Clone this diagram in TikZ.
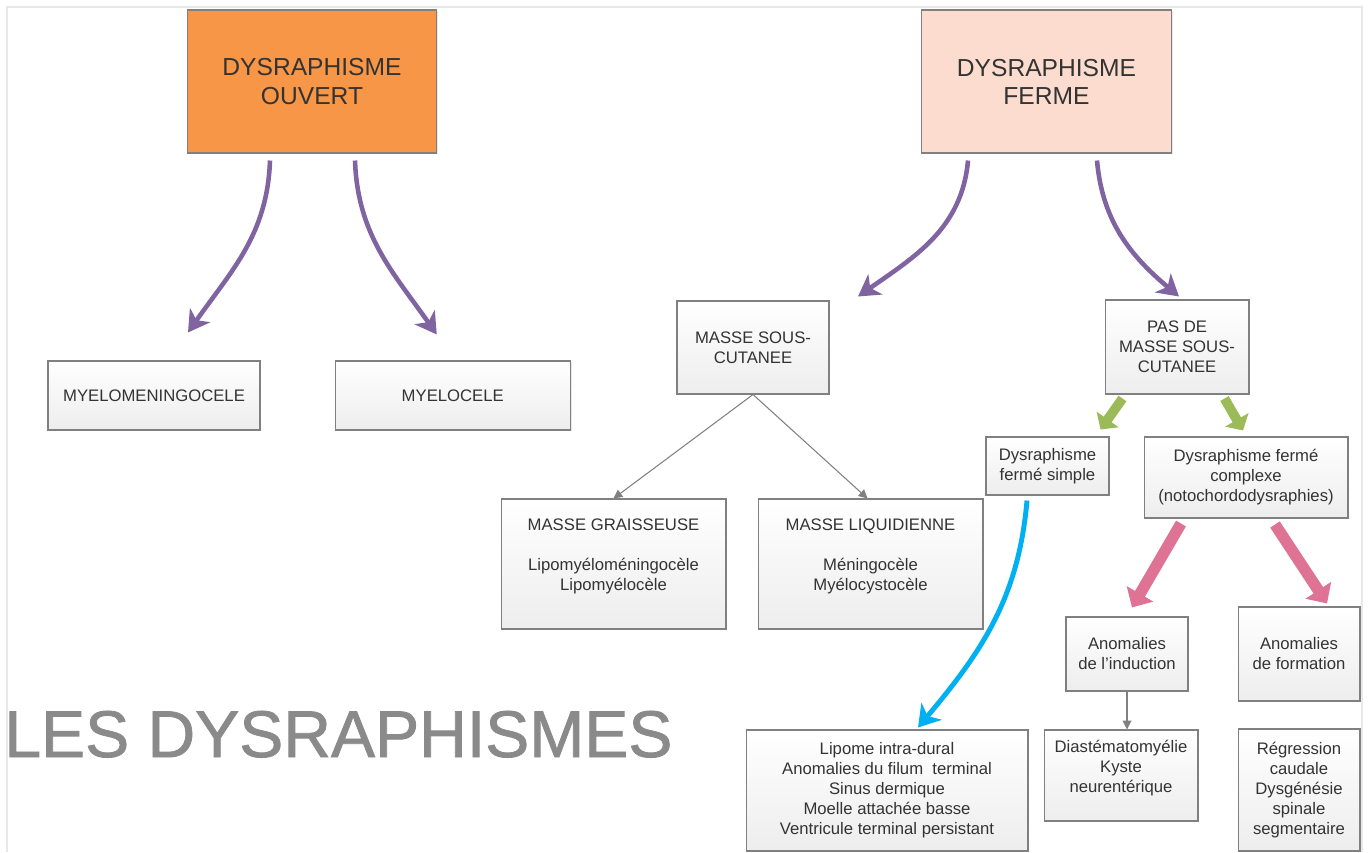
\documentclass[tikz,border=0pt]{standalone}
\usepackage{fontspec}
\setmainfont{Liberation Sans}
\newfontfamily\titrefont[FakeBold=1.2]{Liberation Sans}
\usetikzlibrary{arrows.meta,shadows}
\definecolor{orangeouv}{HTML}{F79646}
\definecolor{peche}{HTML}{FBDCCE}
\definecolor{colviolet}{HTML}{8064A2}
\definecolor{colbleu}{HTML}{00B0F0}
\definecolor{colvert}{HTML}{9BBB59}
\definecolor{colrose}{HTML}{DE7396}
\definecolor{colbord}{HTML}{808080}
\definecolor{coltexte}{HTML}{333333}
\definecolor{coltitre}{HTML}{8A8A8A}
\begin{document}
\begin{tikzpicture}[x=0.02cm,y=-0.02cm,
    box/.style={draw=colbord, line width=0.6pt, top color=white, bottom color=gray!14,
      drop shadow={shadow xshift=0.8pt,shadow yshift=-0.8pt,opacity=0.2},
      align=center, inner sep=0pt, text=coltexte, font=\fontsize{9.5}{11.4}\selectfont},
    bigbox/.style={draw=colbord, line width=0.6pt,
      drop shadow={shadow xshift=0.8pt,shadow yshift=-0.8pt,opacity=0.2},
      align=center, text=coltexte, font=\fontsize{14}{16}\selectfont,
      minimum width=4.99cm, minimum height=2.86cm},
    courbe/.style={colviolet, line width=2.6pt, -{Stealth[length=12pt,width=14pt,inset=3.5pt]}},
    bleu/.style={colbleu, line width=2.8pt, -{Stealth[length=12pt,width=15pt,inset=3.5pt]}},
    fleche/.style={gray, line width=0.6pt, -{Triangle[length=5pt,width=5pt]}},
    vert/.style={colvert, line width=5.5pt, -{Triangle[length=7pt,width=15pt]}},
    rose/.style={colrose, line width=6.5pt, -{Triangle[length=9pt,width=17pt]}}]
    \useasboundingbox (0,0) rectangle (1369,852);
    \draw[gray!18, line width=1.2pt] (7,852) -- (7,7) -- (1362,7) -- (1362,852);

    % niveau 1
    \node[bigbox, fill=orangeouv] (ouv) at (312,81.5) {DYSRAPHISME\\OUVERT};
    \node[bigbox, fill=peche] (fer) at (1046.5,81.5) {DYSRAPHISME\\FERME};

    % niveau 2
    \node[box, minimum width=4.24cm, minimum height=1.38cm] (mmc) at (154,395.5) {MYELOMENINGOCELE};
    \node[box, minimum width=4.71cm, minimum height=1.38cm] (mc) at (452.75,395.5) {MYELOCELE};
    \node[box, minimum width=3.04cm, minimum height=1.86cm] (msc) at (753,347.5) {MASSE SOUS-\\CUTANEE};
    \node[box, minimum width=2.88cm, minimum height=1.88cm] (pmsc) at (1177,347) {PAS DE\\MASSE SOUS-\\CUTANEE};

    % niveau 3
    \node[box, minimum width=4.5cm, minimum height=2.6cm] (mg) at (613.5,564)
        {\parbox[c][1.82cm][t]{4.4cm}{\centering MASSE GRAISSEUSE\\[11.4pt]Lipomyéloméningocèle\\Lipomyélocèle}};
    \node[box, minimum width=4.5cm, minimum height=2.6cm] (ml) at (870.5,564)
        {\parbox[c][1.82cm][t]{4.4cm}{\centering MASSE LIQUIDIENNE\\[11.4pt]Méningocèle\\Myélocystocèle}};
    \node[box, minimum width=2.46cm, minimum height=1.16cm] (dfs) at (1047.5,466) {Dysraphisme\\fermé simple};
    \node[box, minimum width=4.08cm, minimum height=1.62cm] (dfc) at (1246,477.5) {Dysraphisme fermé\\complexe\\(notochordodysraphies)};

    % niveau 4
    \node[box, minimum width=2.44cm, minimum height=1.48cm] (ai) at (1127,654) {Anomalies\\de l'induction};
    \node[box, minimum width=2.44cm, minimum height=1.88cm] (af) at (1299,654) {Anomalies\\de formation};
    \node[box, minimum width=5.64cm, minimum height=2.42cm] (lip) at (887,790.5)
        {Lipome intra-dural\\Anomalies du filum~ terminal\\Sinus dermique\\Moelle attachée basse\\Ventricule terminal persistant};
    \node[box, minimum width=3.08cm, minimum height=1.82cm] (dia) at (1121,775.5)
        {\parbox[c][1.42cm][t]{3cm}{\centering Diastématomyélie\\Kyste\\neurentérique}};
    \node[box, minimum width=2.44cm, minimum height=2.44cm] (reg) at (1299,790)
        {Régression\\caudale\\Dysgénésie\\spinale\\segmentaire};

    \node[anchor=base west, inner sep=0pt, text=coltitre, font=\titrefont\fontsize{37.6}{40}\selectfont] (titre) at (4,757) {LES DYSRAPHISMES};

    % fleches
    \draw[courbe] ([shift={(-42,7)}]ouv.south) to[out=-92,in=55] ([shift={(34,-28)}]mmc.north);
    \draw[courbe] ([shift={(43,7)}]ouv.south) to[out=-88,in=125] ([shift={(-16,-26)}]mc.north);
    \draw[courbe] ([shift={(-78.5,7)}]fer.south) to[out=-95,in=35] ([shift={(105,-4)}]msc.north);
    \draw[courbe] ([shift={(50.5,7)}]fer.south) to[out=-85,in=140] ([shift={(2,-3)}]pmsc.north);
    \draw[fleche] (msc.south) -- (mg.north);
    \draw[fleche] (msc.south) -- ([shift={(-3,0)}]ml.north);
    \draw[vert] ([shift={(18,4)}]pmsc.south west) -- ([shift={(-9,-7)}]dfs.north east);
    \draw[vert] ([shift={(120,4)}]pmsc.south west) -- ([shift={(99.5,-6)}]dfc.north west);
    \draw[rose] ([shift={(37.5,5)}]dfc.south west) -- ([shift={(5,-9)}]ai.north);
    \draw[rose] ([shift={(131.5,6)}]dfc.south west) -- ([shift={(28,-3)}]af.north);
    \draw[bleu] ([shift={(-20.5,5)}]dfs.south) to[out=-95,in=50] ([shift={(31,-2)}]lip.north);
    \draw[fleche] (ai.south) -- (ai.south |- dia.north);
\end{tikzpicture}
\end{document}
